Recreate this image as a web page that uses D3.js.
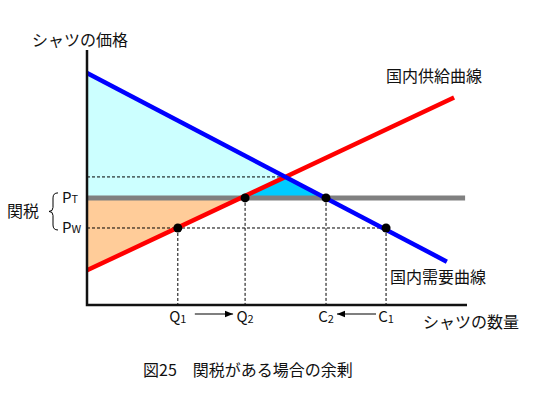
<!DOCTYPE html>
<html>
<head>
<meta charset="utf-8">
<script src="https://cdn.jsdelivr.net/npm/d3@7"></script>
<style>
    body { margin: 0; background: #fff; }
    text { font-family: "Noto Sans CJK JP", "Noto Sans", sans-serif; fill: #111; }
</style>
</head>
<body>
<svg id="chart" width="559" height="397"></svg>
<script>
// line end points (quantity, price)
var demandLine = [[0, 91], [94.7, 17]];
var supplyLine = [[0, 13.6], [96.6, 81.4]];
var worldPrice = 30.2;   // Pw
var tariffPrice = 42;    // Pt
var tariffLineEnd = 99.5;
// marked quantities: Q1, Q2, C2, C1
var quantities = [23.9, 41.6, 62.9, 78.7];
var quantityPrices = [30.2, 42, 42, 30.2];
var qLabels = [["Q", "1"], ["Q", "2"], ["C", "2"], ["C", "1"]];
var texts = {
    yTitle: "シャツの価格",
    xTitle: "シャツの数量",
    supply: "国内供給曲線",
    demand: "国内需要曲線",
    tariff: "関税",
    caption: "図25　関税がある場合の余剰"
};

var svg = d3.select("#chart");

var x = d3.scaleLinear().domain([0, 100]).range([87, 467]);
var y = d3.scaleLinear().domain([0, 100]).range([305, 50]);

var q1 = quantities[0], q2 = quantities[1], c2 = quantities[2], c1 = quantities[3];
var kd = (demandLine[1][1] - demandLine[0][1]) / (demandLine[1][0] - demandLine[0][0]);
var ks = (supplyLine[1][1] - supplyLine[0][1]) / (supplyLine[1][0] - supplyLine[0][0]);
var eqQ = (supplyLine[0][1] - demandLine[0][1]) / (kd - ks);
var eqP = demandLine[0][1] + kd * eqQ;

var poly = d3.line().x(function (d) { return x(d[0]); }).y(function (d) { return y(d[1]); });

// surplus areas
svg.append("path")
    .attr("d", poly([[0, demandLine[0][1]], [c2, tariffPrice], [0, tariffPrice]]) + "Z")
    .attr("fill", "#ccffff");
svg.append("path")
    .attr("d", poly([[q2, tariffPrice], [eqQ, eqP], [c2, tariffPrice]]) + "Z")
    .attr("fill", "#00ccff");
svg.append("path")
    .attr("d", poly([[0, tariffPrice], [q2, tariffPrice], [0, supplyLine[0][1]]]) + "Z")
    .attr("fill", "#ffcc99");

// dashed guides
var dashes = [
    [[0, eqP], [eqQ, eqP]],
    [[0, worldPrice], [c1, worldPrice]]
];
quantities.forEach(function (q, i) {
    dashes.push([[q, quantityPrices[i]], [q, 0]]);
});
svg.selectAll(".dash")
    .data(dashes)
    .enter().append("path")
    .attr("class", "dash")
    .attr("d", poly)
    .attr("stroke", "#000")
    .attr("stroke-width", 1)
    .attr("stroke-dasharray", "3,2")
    .attr("fill", "none");

// tariff price line
svg.append("path")
    .attr("d", poly([[0, tariffPrice], [tariffLineEnd, tariffPrice]]))
    .attr("stroke", "#808080")
    .attr("stroke-width", 5)
    .attr("fill", "none");

svg.append("path")
    .attr("d", poly(supplyLine))
    .attr("stroke", "#ff0000")
    .attr("stroke-width", 4.5)
    .attr("fill", "none");

svg.append("path")
    .attr("d", poly(demandLine))
    .attr("stroke", "#0000ff")
    .attr("stroke-width", 4.5)
    .attr("fill", "none");

// axes
svg.append("path")
    .attr("d", poly([[0, 100], [0, 0], [100, 0]]))
    .attr("stroke", "#111")
    .attr("stroke-width", 2.5)
    .attr("fill", "none");

// points
svg.selectAll(".pt")
    .data(quantities)
    .enter().append("circle")
    .attr("cx", function (d) { return x(d); })
    .attr("cy", function (d, i) { return y(quantityPrices[i]); })
    .attr("r", 4.5)
    .attr("fill", "#000");

// quantity labels
var ql = svg.selectAll(".ql")
    .data(qLabels)
    .enter().append("text")
    .attr("x", function (d, i) { return x(quantities[i]); })
    .attr("y", 322)
    .attr("text-anchor", "middle")
    .attr("font-size", "15px");
ql.append("tspan").text(function (d) { return d[0]; });
ql.append("tspan").attr("font-size", "11px").attr("dy", 1).text(function (d) { return d[1]; });

// arrows
var defs = svg.append("defs");
defs.append("marker")
    .attr("id", "arr")
    .attr("viewBox", "0 0 10 10")
    .attr("refX", 10).attr("refY", 5)
    .attr("markerWidth", 7).attr("markerHeight", 7)
    .attr("orient", "auto")
    .append("path").attr("d", "M0,1L10,5L0,9Z").attr("fill", "#000");

svg.append("line")
    .attr("x1", x(q1) + 17).attr("x2", x(q2) - 12)
    .attr("y1", 314).attr("y2", 314)
    .attr("stroke", "#000").attr("stroke-width", 1.2)
    .attr("marker-end", "url(#arr)");
svg.append("line")
    .attr("x1", x(c1) - 10).attr("x2", x(c2) + 11)
    .attr("y1", 314).attr("y2", 314)
    .attr("stroke", "#000").attr("stroke-width", 1.2)
    .attr("marker-end", "url(#arr)");

// price labels
var pl = svg.selectAll(".pl")
    .data([["T", tariffPrice], ["W", worldPrice]])
    .enter().append("text")
    .attr("x", 62)
    .attr("y", function (d) { return y(d[1]) + 5; })
    .attr("font-size", "15px");
pl.append("tspan").text("P");
pl.append("tspan").attr("font-size", "11px").text(function (d) { return d[0]; });

// brace
var bt = y(tariffPrice) - 5, bb = y(worldPrice) + 2, bm = (bt + bb) / 2;
svg.append("path")
    .attr("d", "M58," + bt + " Q53," + bt + " 53," + (bt + 5) + " L53," + (bm - 4) +
        " Q53," + bm + " 49," + bm + " Q53," + bm + " 53," + (bm + 4) +
        " L53," + (bb - 5) + " Q53," + bb + " 58," + bb)
    .attr("stroke", "#000")
    .attr("stroke-width", 1)
    .attr("fill", "none");

svg.append("text").attr("x", 7).attr("y", bm + 6).attr("font-size", "16px").text(texts.tariff);

// titles
svg.append("text").attr("x", 32).attr("y", 46).attr("font-size", "16px").text(texts.yTitle);
svg.append("text").attr("x", 423).attr("y", 328).attr("font-size", "16px").text(texts.xTitle);
svg.append("text").attr("x", 386).attr("y", 82).attr("font-size", "16px").text(texts.supply);
svg.append("text").attr("x", 390).attr("y", 283).attr("font-size", "16px").text(texts.demand);
svg.append("text").attr("x", 143).attr("y", 376).attr("font-size", "16px").text(texts.caption);
</script>
</body>
</html>
